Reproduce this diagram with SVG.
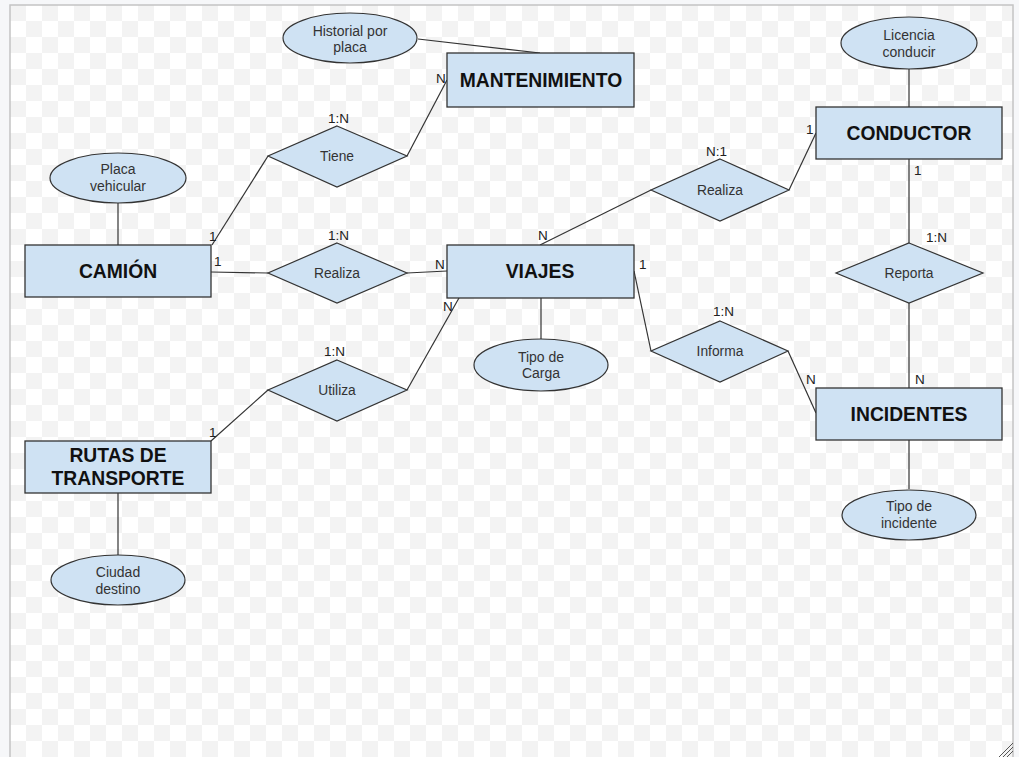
<svg xmlns="http://www.w3.org/2000/svg" width="1019" height="757" viewBox="0 0 1019 757">
<style>
.ent{fill:#cfe2f3;stroke:#333;stroke-width:1.3}
.rel{fill:#cfe2f3;stroke:#333;stroke-width:1.2}
.att{fill:#cfe2f3;stroke:#333;stroke-width:1.2}
.et{font-family:"Liberation Sans",Arial,sans-serif;font-weight:bold;font-size:19.3px;fill:#111;text-anchor:middle}
.rt{font-family:"Liberation Sans",Arial,sans-serif;font-size:13.8px;fill:#333;text-anchor:middle}
.at{font-family:"Liberation Sans",Arial,sans-serif;font-size:14px;fill:#333;text-anchor:middle}
.card{font-family:"Liberation Sans",Arial,sans-serif;font-size:13.5px;fill:#222}
.cn{stroke:#333;stroke-width:1.2;fill:none}
</style>
<defs>
<pattern id="chk" patternUnits="userSpaceOnUse" x="10" y="5" width="32" height="32">
<rect width="32" height="32" fill="#ffffff"/>
<rect width="16" height="16" fill="#f3f3f3"/>
<rect x="16" y="16" width="16" height="16" fill="#f3f3f3"/>
</pattern>
</defs>
<rect width="1019" height="757" fill="#f6f7f9"/>
<rect x="10" y="5" width="1003" height="760" fill="url(#chk)" stroke="#c4c4c4" stroke-width="1.5"/>
<g stroke="#555" stroke-width="1">
<line x1="999" y1="757" x2="1013" y2="743"/>
<line x1="1003" y1="757" x2="1013" y2="747"/>
<line x1="1007" y1="757" x2="1013" y2="751"/>
</g>

<g id="connectors">
<line class="cn" x1="418" y1="39" x2="540" y2="53"/>
<line class="cn" x1="407" y1="156" x2="447" y2="80"/>
<line class="cn" x1="268" y1="156" x2="212" y2="245"/>
<line class="cn" x1="211" y1="272" x2="268" y2="273"/>
<line class="cn" x1="407" y1="273" x2="447" y2="271"/>
<line class="cn" x1="540" y1="245" x2="651" y2="190"/>
<line class="cn" x1="789" y1="190" x2="816" y2="133"/>
<line class="cn" x1="909" y1="159" x2="909" y2="243"/>
<line class="cn" x1="909" y1="303" x2="909" y2="388"/>
<line class="cn" x1="634" y1="271" x2="651" y2="351"/>
<line class="cn" x1="788" y1="351" x2="816" y2="413"/>
<line class="cn" x1="459" y1="298" x2="407" y2="390"/>
<line class="cn" x1="268" y1="390" x2="211" y2="441"/>
<line class="cn" x1="118" y1="203" x2="118" y2="245"/>
<line class="cn" x1="909" y1="69" x2="909" y2="107"/>
<line class="cn" x1="541" y1="298" x2="541" y2="339"/>
<line class="cn" x1="118" y1="493" x2="118" y2="555"/>
<line class="cn" x1="909" y1="440" x2="909" y2="489"/>
</g>

<g id="labels">
<text class="card" x="328" y="123">1:N</text>
<text class="card" x="436" y="83">N</text>
<text class="card" x="209" y="241">1</text>
<text class="card" x="214" y="266">1</text>
<text class="card" x="328" y="240">1:N</text>
<text class="card" x="435" y="269">N</text>
<text class="card" x="538" y="240">N</text>
<text class="card" x="639" y="269">1</text>
<text class="card" x="443" y="311">N</text>
<text class="card" x="706" y="156">N:1</text>
<text class="card" x="806" y="134">1</text>
<text class="card" x="914" y="175">1</text>
<text class="card" x="926" y="242">1:N</text>
<text class="card" x="713" y="316">1:N</text>
<text class="card" x="806" y="384">N</text>
<text class="card" x="915" y="384">N</text>
<text class="card" x="324" y="356">1:N</text>
<text class="card" x="209" y="437">1</text>
</g>

<g id="camion"><rect class="ent" x="25" y="245" width="186" height="52"/><text class="et" x="118" y="278">CAMIÓN</text></g>
<g id="mantenimiento"><rect class="ent" x="447" y="53" width="187" height="54"/><text class="et" x="541" y="87">MANTENIMIENTO</text></g>
<g id="viajes"><rect class="ent" x="447" y="245" width="187" height="53"/><text class="et" x="540" y="278">VIAJES</text></g>
<g id="conductor"><rect class="ent" x="816" y="107" width="186" height="52"/><text class="et" x="909" y="140">CONDUCTOR</text></g>
<g id="incidentes"><rect class="ent" x="816" y="388" width="186" height="52"/><text class="et" x="909" y="421">INCIDENTES</text></g>
<g id="rutas"><rect class="ent" x="25" y="441" width="186" height="52"/><text class="et" x="118" y="462">RUTAS DE</text><text class="et" x="118" y="485">TRANSPORTE</text></g>

<g id="tiene"><polygon class="rel" points="337,126 407,156 337,187 268,156"/><text class="rt" x="337" y="161">Tiene</text></g>
<g id="realiza1"><polygon class="rel" points="337,243 407,273 337,303 268,273"/><text class="rt" x="337" y="278">Realiza</text></g>
<g id="utiliza"><polygon class="rel" points="337,360 407,390 337,421 268,390"/><text class="rt" x="337" y="395">Utiliza</text></g>
<g id="realiza2"><polygon class="rel" points="720,159 789,190 720,221 651,190"/><text class="rt" x="720" y="195">Realiza</text></g>
<g id="reporta"><polygon class="rel" points="909,243 983,273 909,303 836,273"/><text class="rt" x="909" y="278">Reporta</text></g>
<g id="informa"><polygon class="rel" points="720,321 788,351 720,382 651,351"/><text class="rt" x="720" y="356">Informa</text></g>

<g id="historial"><ellipse class="att" cx="350" cy="38" rx="67" ry="25"/><text class="at" x="350" y="36">Historial por</text><text class="at" x="350" y="52">placa</text></g>
<g id="placa"><ellipse class="att" cx="118" cy="178" rx="68" ry="25"/><text class="at" x="118" y="174">Placa</text><text class="at" x="118" y="191">vehicular</text></g>
<g id="licencia"><ellipse class="att" cx="909" cy="43" rx="68" ry="26"/><text class="at" x="909" y="40">Licencia</text><text class="at" x="909" y="57">conducir</text></g>
<g id="tipocarga"><ellipse class="att" cx="541" cy="365" rx="67" ry="26"/><text class="at" x="541" y="362">Tipo de</text><text class="at" x="541" y="378">Carga</text></g>
<g id="ciudad"><ellipse class="att" cx="118" cy="580" rx="67" ry="25"/><text class="at" x="118" y="577">Ciudad</text><text class="at" x="118" y="594">destino</text></g>
<g id="tipoinc"><ellipse class="att" cx="909" cy="515" rx="67" ry="25"/><text class="at" x="909" y="511">Tipo de</text><text class="at" x="909" y="528">incidente</text></g>
</svg>
